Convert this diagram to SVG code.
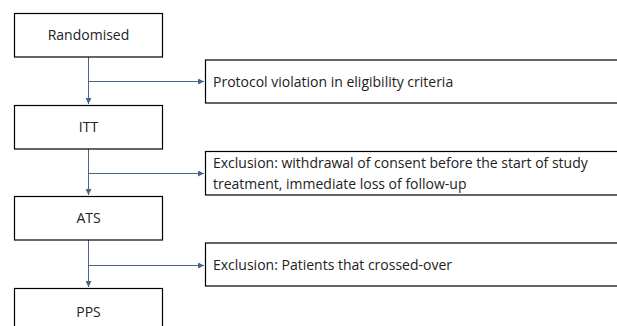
<svg xmlns="http://www.w3.org/2000/svg" width="617" height="326" viewBox="0 0 617 326">
<style>
.box{fill:#fff;stroke:#000;stroke-width:1.2}
.t{font-family:"Open Sans","Liberation Sans",Arial,sans-serif;font-size:14px;fill:#222}
.c{text-anchor:middle}
.con{stroke:#4a6584;stroke-width:1;fill:none}
</style>
<defs>
<marker id="ah" viewBox="0 0 6 6" refX="6" refY="3" markerWidth="6" markerHeight="6" markerUnits="userSpaceOnUse" orient="auto">
<path d="M0,0 L6,3 L0,6 z" fill="#4a6584"/>
</marker>
</defs>
<rect width="617" height="326" fill="#fff"/>
<g id="connectors">
<path class="con" d="M88.5,57 V104" marker-end="url(#ah)"/>
<path class="con" d="M88.5,81.5 H204" marker-end="url(#ah)"/>
<path class="con" d="M88.5,149 V195" marker-end="url(#ah)"/>
<path class="con" d="M88.5,173.5 H204" marker-end="url(#ah)"/>
<path class="con" d="M88.5,240 V287" marker-end="url(#ah)"/>
<path class="con" d="M88.5,265.5 H204" marker-end="url(#ah)"/>
</g>
<g id="randomised">
<rect class="box" x="14.5" y="13.5" width="148" height="43.5"/>
<text class="t c" x="88.5" y="40">Randomised</text>
</g>
<g id="itt">
<rect class="box" x="14.5" y="105.5" width="148" height="43.5"/>
<text class="t c" x="88.5" y="132">ITT</text>
</g>
<g id="ats">
<rect class="box" x="14.5" y="196.5" width="148" height="43.5"/>
<text class="t c" x="88.5" y="223">ATS</text>
</g>
<g id="pps">
<rect class="box" x="14.5" y="288.5" width="148" height="50"/>
<text class="t c" x="88.5" y="317">PPS</text>
</g>
<g id="protocol">
<rect class="box" x="205.5" y="60" width="420" height="43"/>
<text class="t" x="213" y="86.5">Protocol violation in eligibility criteria</text>
</g>
<g id="withdrawal">
<rect class="box" x="205.5" y="151.5" width="420" height="43.5"/>
<text class="t" x="213" y="168">Exclusion: withdrawal of consent before the start of study</text>
<text class="t" x="213" y="189">treatment, immediate loss of follow-up</text>
</g>
<g id="crossover">
<rect class="box" x="205.5" y="243" width="420" height="43"/>
<text class="t" x="213" y="270">Exclusion: Patients that crossed-over</text>
</g>
</svg>
